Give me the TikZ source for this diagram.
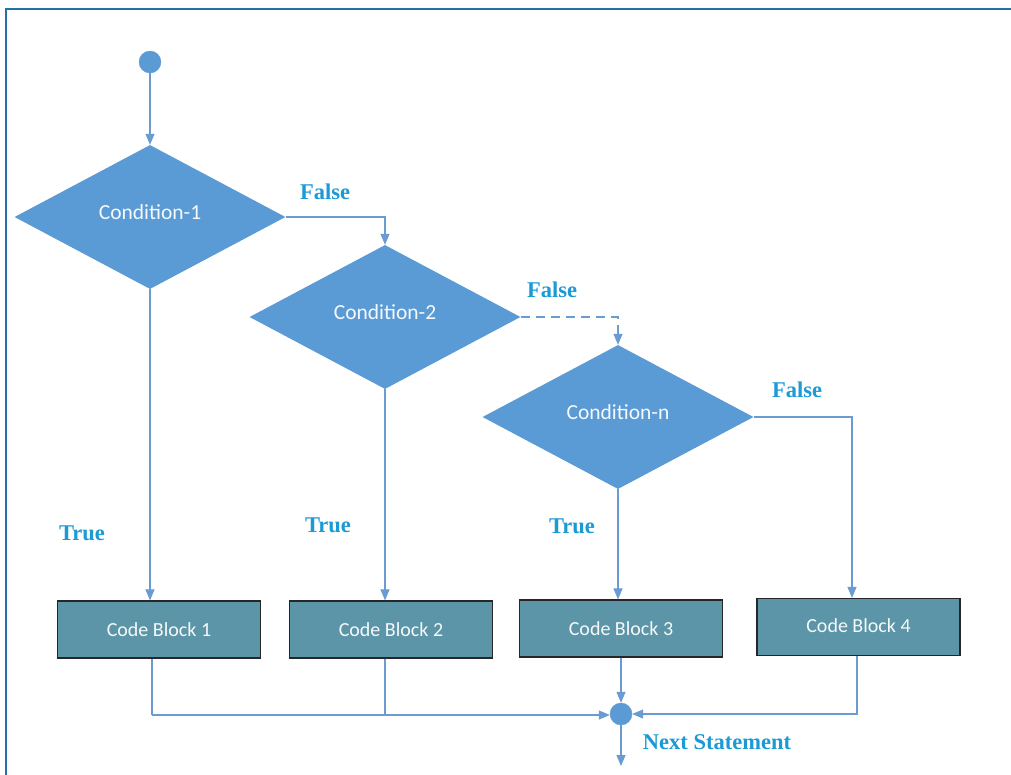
\documentclass[tikz,border=0pt]{standalone}
\usepackage{fontspec}
\setmainfont{Liberation Serif}
\newfontfamily\boxfont{Carlito}
\usetikzlibrary{shapes.geometric,arrows.meta}
\definecolor{dfill}{HTML}{5B9BD5}
\definecolor{bfill}{HTML}{5C95A8}
\definecolor{lcol}{HTML}{6A9BD3}
\definecolor{tcol}{HTML}{1B9AD6}
\definecolor{fcol}{HTML}{2272A8}
\newcommand{\condtext}[1]{\raisebox{9pt}{#1}}
\tikzset{
  cond/.style={diamond,fill=dfill,draw=none,minimum width=271pt,minimum height=144pt,inner sep=0pt,aspect=1.88,
    font=\boxfont\fontsize{21.5}{24}\selectfont,text=white!94!dfill},
  codebox/.style={rectangle,fill=bfill,draw=black!85,line width=1.2pt,minimum width=203pt,minimum height=57pt,inner sep=0pt,
    font=\boxfont\fontsize{20}{24}\selectfont,text=white!94!bfill},
  dot/.style={circle,fill=dfill,draw=lcol,minimum size=22pt,inner sep=0pt},
  conn/.style={draw=lcol,line width=1.1pt},
  arr/.style={conn,-{Triangle[length=11pt,width=9pt]}},
  lbl/.style={text=tcol,font=\bfseries\fontsize{22.5}{26}\selectfont,inner sep=0pt}
}
\begin{document}
\begin{tikzpicture}[x=1pt,y=-1pt]
\useasboundingbox (0,0) rectangle (1011,774);
\fill[white] (0,0) rectangle (1011,774);
\draw[fcol,line width=2.2pt] (6,780) -- (6,9) -- (1020,9);
% nodes
\node[dot] (start) at (150,62) {};
\node[cond] (c1) at (150,217) {\condtext{Condition-1}};
\node[cond] (c2) at (385,317) {\condtext{Condition-2}};
\node[cond] (cn) at (618,417) {\condtext{Condition-n}};
\node[codebox] (b1) at (159,629.5) {Code Block 1};
\node[codebox] (b2) at (391,629.5) {Code Block 2};
\node[codebox] (b3) at (621,628.5) {Code Block 3};
\node[codebox] (b4) at (858.5,627) {\raisebox{3pt}{Code Block 4}};
\node[dot] (merge) at (621,714) {};
\coordinate (out) at (621,766);
\coordinate (j1) at (152,715);
\coordinate (j2) at (385,715);
% labels
\node[lbl] at (325,192) {False};
\node[lbl] at (552,290) {False};
\node[lbl] at (797,390) {False};
\node[lbl] at (82,533) {True};
\node[lbl] at (328,525) {True};
\node[lbl] at (572,526) {True};
\node[lbl] at (717,742) {Next Statement};
% connectors
\draw[arr] (start) -- (c1.north);
\draw[arr] (c1.east) -| (c2.north);
\draw[arr,dashed,dash pattern=on 9pt off 6pt] (c2.east) -| (cn.north);
\draw[arr] (cn.east) -| (b4.north -| 852,0);
\draw[arr] (c1.south) -- (c1.south |- b1.north);
\draw[arr] (c2.south) -- (c2.south |- b2.north);
\draw[arr] (cn.south) -- (cn.south |- b3.north);
\draw[conn] (b1.south -| j1) -- (j1);
\draw[conn] (b2.south -| j2) -- (j2);
\draw[arr] (j1) -- (j1 -| merge.west);
\draw[arr] (b3.south -| merge) -- (merge.north);
\draw[arr] (b4.south -| 857,0) |- (merge.east);
\draw[arr] (merge.south) -- (out);
\end{tikzpicture}
\end{document}
